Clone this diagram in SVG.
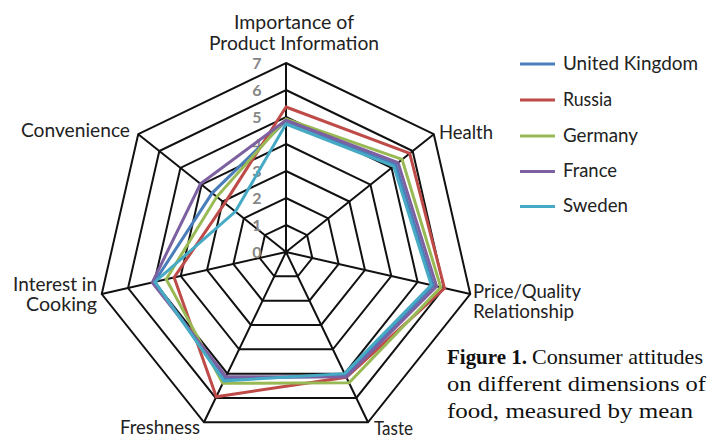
<svg xmlns="http://www.w3.org/2000/svg" width="712" height="438" viewBox="0 0 712 438">
<style>
.grid{fill:none;stroke:#111;stroke-width:2;stroke-linejoin:miter}
.s{fill:none;stroke-width:3;stroke-linejoin:miter}
.lbl{font-family:Lato,"Open Sans",sans-serif;font-size:18.5px;fill:#222}
.tick{font-family:Lato,"Open Sans",sans-serif;font-size:16px;font-weight:bold;fill:#858585;text-anchor:middle}
.cap{font-family:"Liberation Serif",serif;font-size:21.5px;fill:#111}
</style>
<rect width="712" height="438" fill="#fff"/>
<g id="grid">
<polygon class="grid" points="286,225 307.11,235.17 312.32,258.01 297.71,276.33 274.29,276.33 259.68,258.01 264.89,235.17"/>
<polygon class="grid" points="286,198 328.22,218.33 338.65,264.02 309.43,300.65 262.57,300.65 233.35,264.02 243.78,218.33"/>
<polygon class="grid" points="286,171 349.33,201.5 364.97,270.02 321.14,324.98 250.86,324.98 207.03,270.02 222.67,201.5"/>
<polygon class="grid" points="286,144 370.44,184.66 391.29,276.03 332.86,349.3 239.14,349.3 180.71,276.03 201.56,184.66"/>
<polygon class="grid" points="286,117 391.55,167.83 417.62,282.04 344.57,373.63 227.43,373.63 154.38,282.04 180.45,167.83"/>
<polygon class="grid" points="286,90 412.66,150.99 443.94,288.05 356.29,397.96 215.71,397.96 128.06,288.05 159.34,150.99"/>
<polygon class="grid" points="286,63 433.77,134.16 470.26,294.06 368,422.28 204,422.28 101.74,294.06 138.23,134.16"/>
<path class="grid" d="M286,252L286,63M286,252L433.77,134.16M286,252L470.26,294.06M286,252L368,422.28M286,252L204,422.28M286,252L101.74,294.06M286,252L138.23,134.16"/>
</g>
<g id="ticks">
<text class="tick" x="257" y="69">7</text>
<text class="tick" x="257" y="96">6</text>
<text class="tick" x="257" y="123">5</text>
<text class="tick" x="257" y="150">4</text>
<text class="tick" x="257" y="177">3</text>
<text class="tick" x="257" y="204">2</text>
<text class="tick" x="257" y="231">1</text>
<text class="tick" x="257" y="258">0</text>
</g>
<g id="series">
<polygon id="uk" class="s" stroke="#4A7EBB" points="286,121.05 395.77,164.46 433.41,285.64 345.75,376.06 225.08,378.5 154.38,282.04 212.12,193.08"/>
<polygon id="russia" class="s" stroke="#BE4B48" points="286,107.01 409.7,153.35 444.46,288.17 346.33,377.28 216.3,396.74 174.13,277.53 224.78,203.18"/>
<polygon id="germany" class="s" stroke="#98B954" points="286,118.89 402.1,159.41 440.78,287.33 349.03,382.87 222.74,383.36 166.23,279.34 216.76,196.78"/>
<polygon id="france" class="s" stroke="#7D60A0" points="286,120.24 398.09,162.61 436.57,286.37 346.22,377.04 226.02,376.55 152.28,282.52 200.51,183.82"/>
<polygon id="sweden" class="s" stroke="#46AAC5" points="286,124.02 393.66,166.15 431.3,285.16 344.57,373.63 223.91,380.93 154.91,281.92 235.34,211.6"/>
</g>
<g id="axis-labels" class="lbl">
<text x="234" y="29" textLength="120" lengthAdjust="spacingAndGlyphs">Importance of</text>
<text x="209" y="50" textLength="170" lengthAdjust="spacingAndGlyphs">Product Information</text>
<text x="439" y="139" textLength="54" lengthAdjust="spacingAndGlyphs">Health</text>
<text x="473" y="298" textLength="108" lengthAdjust="spacingAndGlyphs">Price/Quality</text>
<text x="473" y="318" textLength="101" lengthAdjust="spacingAndGlyphs">Relationship</text>
<text x="374" y="435" textLength="39" lengthAdjust="spacingAndGlyphs">Taste</text>
<text x="120" y="434" textLength="80" lengthAdjust="spacingAndGlyphs">Freshness</text>
<text x="13" y="291" textLength="84" lengthAdjust="spacingAndGlyphs">Interest in</text>
<text x="26" y="311" textLength="71" lengthAdjust="spacingAndGlyphs">Cooking</text>
<text x="21" y="137" textLength="109" lengthAdjust="spacingAndGlyphs">Convenience</text>
</g>
<g id="legend" class="lbl">
<line x1="520" y1="64" x2="555" y2="64" stroke="#4A7EBB" stroke-width="3"/>
<line x1="520" y1="100" x2="555" y2="100" stroke="#BE4B48" stroke-width="3"/>
<line x1="520" y1="136" x2="555" y2="136" stroke="#98B954" stroke-width="3"/>
<line x1="520" y1="171.5" x2="555" y2="171.5" stroke="#7D60A0" stroke-width="3"/>
<line x1="520" y1="206.5" x2="555" y2="206.5" stroke="#46AAC5" stroke-width="3"/>
<text x="563" y="70" textLength="135" lengthAdjust="spacingAndGlyphs">United Kingdom</text>
<text x="563" y="106" textLength="49" lengthAdjust="spacingAndGlyphs">Russia</text>
<text x="563" y="142" textLength="75" lengthAdjust="spacingAndGlyphs">Germany</text>
<text x="563" y="177" textLength="54" lengthAdjust="spacingAndGlyphs">France</text>
<text x="563" y="212" textLength="65" lengthAdjust="spacingAndGlyphs">Sweden</text>
</g>
<g id="caption" class="cap">
<text x="447" y="364" font-weight="bold" textLength="80" lengthAdjust="spacingAndGlyphs">Figure 1.</text>
<text x="532" y="364" textLength="171" lengthAdjust="spacingAndGlyphs">Consumer attitudes</text>
<text x="447" y="391" textLength="259" lengthAdjust="spacingAndGlyphs">on different dimensions of</text>
<text x="447" y="418" textLength="246" lengthAdjust="spacingAndGlyphs">food, measured by mean</text>
</g>
</svg>
